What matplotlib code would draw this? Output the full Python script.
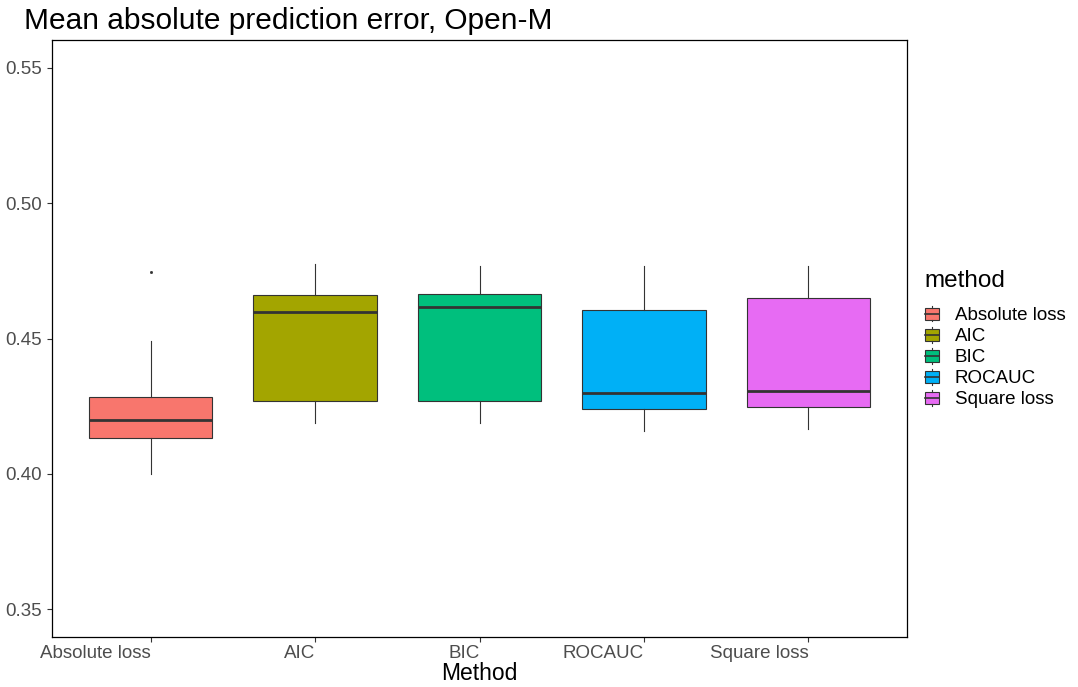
import matplotlib
matplotlib.use("Agg")
import matplotlib.pyplot as plt
from matplotlib.legend_handler import HandlerBase
from matplotlib.patches import Rectangle
from matplotlib.lines import Line2D

methods = ["Absolute loss", "AIC", "BIC", "ROCAUC", "Square loss"]
colors = ["#F8766D", "#A3A500", "#00BF7D", "#00B0F6", "#E76BF3"]
whislo = [0.4000, 0.4188, 0.4188, 0.4159, 0.4166]
q1 = [0.4133, 0.4269, 0.4269, 0.4240, 0.4247]
med = [0.4199, 0.4598, 0.4617, 0.4299, 0.4306]
q3 = [0.4284, 0.4661, 0.4665, 0.4606, 0.4650]
whishi = [0.4491, 0.4776, 0.4768, 0.4768, 0.4768]
fliers = [[0.4746], [], [], [], []]

plt.rcParams['font.family'] = ['Liberation Sans', 'DejaVu Sans']

fig = plt.figure(figsize=(10.78, 6.87), dpi=100)
ax = fig.add_axes([52/1078, 50/687, 855/1078, 597/687])

stats = []
for i, m in enumerate(methods):
    stats.append(dict(label=m, whislo=whislo[i], q1=q1[i], med=med[i], q3=q3[i],
                      whishi=whishi[i], fliers=fliers[i]))

bp = ax.bxp(stats, positions=range(1, 6), widths=0.75, patch_artist=True, showcaps=False,
            boxprops=dict(edgecolor="#333333", linewidth=0.8),
            whiskerprops=dict(color="#333333", linewidth=0.8),
            medianprops=dict(color="#333333", linewidth=2),
            flierprops=dict(marker="s", markersize=1.0, markerfacecolor="#333333",
                            markeredgecolor="#333333"))
for patch, c in zip(bp["boxes"], colors):
    patch.set_facecolor(c)

ax.set_xlim(0.4, 5.6)
ax.set_ylim(0.3397, 0.5603)
ax.set_yticks([0.35, 0.40, 0.45, 0.50, 0.55])
ax.set_yticklabels(["0.35", "0.40", "0.45", "0.50", "0.55"])
ax.set_xticks(range(1, 6))
ax.set_xticklabels(methods, ha="right")
ax.tick_params(axis="both", colors="#333333", labelcolor="#4d4d4d", labelsize=13.5,
               length=3.5, width=0.8)
ax.tick_params(axis="x", pad=2)
for s in ax.spines.values():
    s.set_color("black")
    s.set_linewidth(0.9)

ax.set_xlabel("Method", fontsize=16.5, labelpad=0)
ax.set_title("Mean absolute prediction error, Open-M", fontsize=21.5, loc="left", x=-0.033, pad=8)


class BoxHandler(HandlerBase):
    def create_artists(self, legend, orig_handle, xdescent, ydescent, width, height, fontsize, trans):
        c = orig_handle.get_facecolor()
        w = width * 0.85
        x0 = (width - w) / 2 - xdescent
        y0 = -ydescent + height * 0.12
        h = height * 0.76
        rect = Rectangle((x0, y0), w, h, facecolor=c, edgecolor="#333333", lw=0.8, transform=trans)
        cx = x0 + w / 2
        l1 = Line2D([cx, cx], [-ydescent, y0], color="#333333", lw=0.8, transform=trans)
        l2 = Line2D([cx, cx], [y0 + h, -ydescent + height], color="#333333", lw=0.8, transform=trans)
        l3 = Line2D([x0, x0 + w], [y0 + h / 2, y0 + h / 2], color="#333333", lw=1.2, transform=trans)
        return [rect, l1, l2, l3]


handles = [Rectangle((0, 0), 1, 1, facecolor=c) for c in colors]
leg = fig.legend(handles, methods, handler_map={Rectangle: BoxHandler()},
                 loc="upper left", bbox_to_anchor=(924/1078, 1 - 270/687), frameon=False,
                 title="method", title_fontsize=17.5, fontsize=13.5,
                 handlelength=0.85, handleheight=0.9, handletextpad=0.8, labelspacing=0.15,
                 alignment="left", borderaxespad=0, borderpad=0)
leg._legend_box.sep = 10

fig.savefig("out.png", dpi=100)
